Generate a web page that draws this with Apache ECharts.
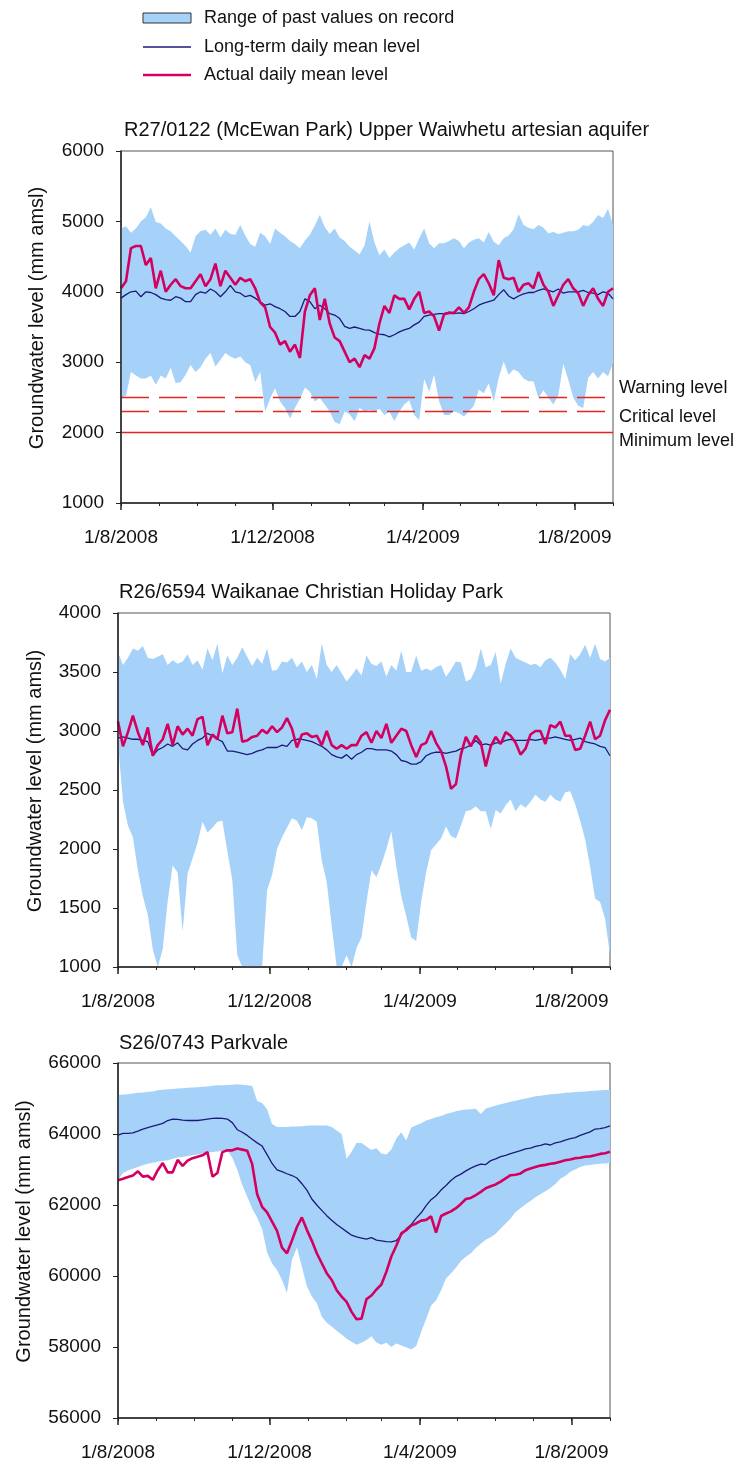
<!DOCTYPE html>
<html><head><meta charset="utf-8">
<script src="https://cdn.jsdelivr.net/npm/echarts/dist/echarts.min.js"></script>
<style>html,body{margin:0;padding:0;background:#fff}#c{width:753px;height:1465px}</style>
</head><body><div id="c"></div>
<script>
const FONT = "'Liberation Sans', Arial, Helvetica, sans-serif";
const BAND = '#a6d2f9', MEAN = '#1c1a78', ACT = '#d4005f', THR = '#e3261f', INK = '#111';

// sample days (offset from 1/8/2008)
const sampleDays = [0,4,8,12,16,20,24,28,32,36,40,44,48,52,56,60,64,68,72,76,80,84,88,92,96,100,104,108,112,116,120,124,128,132,136,140,144,148,152,156,160,164,168,172,176,180,184,188,192,196,200,204,208,212,216,220,224,228,232,236,240,244,248,252,256,260,264,268,272,276,280,284,288,292,296,300,304,308,312,316,320,324,328,332,336,340,344,348,352,356,360,364,368,372,376,380,384,388,392,396];

// Panel 1: R27/0122
const p1Upper = [4900,4930,4840,4900,5000,5060,5200,4990,4970,4900,
 4860,4790,4720,4650,4560,4790,4860,4880,4810,4900,
 4770,4880,4820,4810,4950,4800,4680,4640,4840,4790,
 4680,4900,4840,4790,4720,4680,4620,4730,4810,4940,
 5090,4920,4820,4900,4770,4720,4640,4590,4530,4660,
 5000,4700,4520,4600,4480,4560,4620,4660,4700,4600,
 4760,4900,4690,4620,4690,4690,4720,4760,4720,4620,
 4700,4740,4760,4700,4850,4710,4660,4760,4800,4890,
 5100,4950,4910,4890,4950,4910,4830,4850,4820,4840,
 4860,4860,4880,4950,4930,4990,5090,5050,5180,4950];
const p1Lower = [2500,2520,2860,2810,2770,2770,2810,2680,2810,2770,
 2920,2700,2720,2820,2960,2860,2930,3050,3130,2940,
 3030,3130,3080,3050,3080,3000,2960,2720,2860,2300,
 2480,2630,2440,2350,2200,2350,2480,2640,2580,2440,
 2490,2400,2300,2150,2120,2300,2260,2160,2350,2300,
 2320,2300,2340,2250,2300,2160,2300,2400,2460,2250,
 2180,2760,2580,2820,2450,2250,2250,2300,2280,2230,
 2300,2380,2610,2560,2700,2440,2780,3010,2820,2900,
 2860,2770,2730,2730,2490,2600,2500,2400,2530,2980,
 2750,2500,2380,2350,2780,2860,2770,2860,2800,2990];
const p1Mean = [3910,3960,4000,4010,3930,4000,3990,3960,3910,3890,
 3880,3930,3910,3860,3860,3960,4000,3980,4040,4000,
 3930,4000,4090,4000,3980,3930,3950,3910,3860,3810,
 3830,3790,3760,3720,3650,3650,3720,3900,3860,3760,
 3810,3760,3690,3670,3620,3510,3480,3500,3480,3460,
 3455,3420,3400,3390,3360,3390,3430,3460,3480,3530,
 3570,3650,3670,3680,3690,3690,3710,3690,3700,3690,
 3720,3760,3810,3840,3860,3880,3960,4030,3940,3900,
 3940,3970,3990,3990,4020,4040,4020,4000,4040,3980,
 4000,4000,4000,4020,3990,3980,3960,4000,3980,3900];
const p1Actual = [4050,4150,4620,4650,4650,4380,4480,4050,4300,4000,
 4100,4180,4080,4050,4050,4150,4250,4080,4180,4400,
 4080,4300,4200,4100,4200,4150,4180,4050,3850,3780,
 3500,3420,3250,3300,3150,3250,3060,3720,3950,4050,
 3600,3900,3550,3350,3300,3150,3000,3050,2930,3100,
 3050,3200,3550,3800,3700,3950,3900,3900,3750,3900,
 4000,3700,3720,3650,3450,3680,3700,3700,3780,3700,
 3780,4000,4180,4250,4120,3950,4450,4200,4180,4200,
 4000,4100,4120,4050,4280,4100,4000,3800,3950,4100,
 4180,4050,3980,3800,3950,4050,3900,3800,4000,4050];
const p1Thresholds = [2500, 2300, 2000];
const p1ThrLabels = ['Warning level', 'Critical level', 'Minimum level'];
const p1ThrDashed = [true, true, false];

// Panel 2: R26/6594
const p2Upper = [3670,3560,3620,3700,3680,3720,3620,3610,3630,3650,
 3560,3600,3570,3590,3650,3560,3600,3520,3700,3600,
 3740,3490,3640,3560,3620,3710,3630,3550,3620,3570,
 3700,3510,3520,3590,3580,3620,3540,3590,3500,3560,
 3440,3740,3560,3500,3560,3490,3420,3470,3530,3470,
 3640,3570,3550,3590,3460,3560,3510,3680,3500,3500,
 3640,3510,3530,3510,3540,3560,3460,3520,3590,3580,
 3420,3440,3530,3700,3540,3560,3670,3400,3570,3700,
 3620,3600,3580,3560,3570,3540,3600,3620,3580,3520,
 3440,3650,3600,3650,3730,3620,3740,3610,3590,3620];
const p2Lower = [2900,2400,2200,2100,1820,1600,1440,1150,1000,1150,
 1560,1860,1800,1300,1790,1920,2050,2230,2140,2180,
 2230,2240,1980,1740,1100,1000,1000,1000,1000,1000,
 1650,1780,2000,2100,2180,2260,2240,2160,2270,2260,
 2230,1900,1720,1350,1000,1000,1100,1000,1160,1250,
 1550,1820,1760,1870,2000,2150,1850,1600,1430,1250,
 1220,1550,1800,1990,2040,2090,2190,2110,2090,2200,
 2320,2330,2360,2320,2320,2170,2330,2300,2370,2420,
 2320,2380,2350,2400,2460,2420,2400,2460,2420,2400,
 2480,2490,2380,2240,2080,1850,1580,1550,1410,1100];
const p2Mean = [2940,2950,2940,2930,2930,2920,2910,2790,2840,2860,
 2890,2870,2900,2850,2840,2890,2920,2940,2980,2960,
 2930,2910,2830,2830,2820,2810,2800,2810,2830,2840,
 2860,2860,2860,2880,2870,2920,2930,2930,2920,2910,
 2890,2870,2840,2800,2780,2770,2800,2760,2800,2820,
 2850,2850,2840,2840,2840,2830,2800,2750,2740,2720,
 2720,2740,2790,2810,2820,2820,2810,2820,2830,2850,
 2860,2880,2920,2880,2890,2880,2900,2900,2920,2930,
 2920,2920,2920,2930,2920,2930,2940,2940,2950,2940,
 2930,2920,2930,2940,2910,2900,2890,2870,2860,2790];
const p2Actual = [3080,2870,2990,3130,2990,2880,3030,2790,2880,2930,
 3060,2880,3040,2970,3020,2960,3100,3120,2880,2970,
 2930,3130,2980,2990,3190,2910,2920,2950,2960,3010,
 2980,3040,2990,3030,3110,3020,2860,2970,2980,2950,
 2960,2880,3000,2880,2850,2880,2850,2880,2880,2960,
 2990,2900,3000,2940,3060,2900,2960,3020,3000,2880,
 2780,2880,2900,3000,2900,2830,2700,2510,2550,2800,
 2950,2870,2960,2900,2700,2870,2950,2890,2990,2960,
 2900,2800,2850,2970,3000,3000,2890,3050,3030,3080,
 2960,2960,2840,2850,2960,3080,2930,2960,3090,3180];

// Panel 3: S26/0743
const p3Upper = [65100,65110,65120,65140,65160,65170,65190,65200,65230,65250,
 65260,65270,65280,65290,65300,65310,65320,65330,65340,65360,
 65370,65370,65380,65390,65400,65390,65370,65350,64930,64870,
 64700,64280,64200,64200,64200,64210,64210,64220,64230,64240,
 64240,64240,64240,64200,64100,64000,63300,63500,63750,63750,
 63650,63550,63600,63450,63420,63560,63870,64050,63820,64180,
 64250,64300,64380,64420,64470,64510,64560,64600,64640,64670,
 64690,64700,64710,64560,64720,64760,64800,64840,64870,64910,
 64940,64970,65000,65030,65060,65080,65100,65120,65130,65140,
 65160,65170,65180,65190,65200,65210,65220,65230,65240,65250];
const p3Lower = [62700,62900,62970,63020,63070,63120,63160,63190,63220,63240,
 63260,63300,63340,63350,63380,63400,63420,63450,63470,63490,
 63510,63530,63540,63330,62990,62560,62230,61900,61650,61320,
 60670,60350,60170,59890,59520,60450,60800,60260,59720,59420,
 59240,58860,58680,58580,58460,58350,58230,58150,58060,58120,
 58200,58300,58130,58060,58120,58000,58100,58040,57990,57930,
 58030,58420,58790,59170,59320,59590,59930,60080,60230,60420,
 60540,60640,60790,60910,61020,61090,61190,61340,61480,61620,
 61800,61910,62020,62110,62220,62300,62390,62480,62590,62740,
 62820,62940,63000,63070,63110,63130,63150,63160,63170,63180];
const p3Mean = [63970,64020,64020,64030,64080,64140,64180,64220,64260,64300,
 64380,64420,64410,64390,64380,64380,64380,64400,64420,64440,
 64450,64440,64420,64320,64120,64050,63960,63850,63750,63660,
 63420,63170,62990,62940,62880,62830,62760,62600,62420,62170,
 62000,61850,61700,61570,61450,61350,61250,61150,61100,61070,
 61040,61080,61010,60990,60970,60960,61000,61150,61330,61450,
 61630,61780,61980,62150,62260,62420,62550,62690,62800,62870,
 62960,63040,63100,63150,63140,63250,63300,63360,63400,63450,
 63490,63530,63580,63600,63650,63680,63720,63690,63750,63780,
 63830,63870,63900,63960,64010,64060,64140,64150,64180,64230];
const p3Actual = [62700,62740,62790,62830,62950,62800,62820,62710,62980,63180,
 62920,62920,63270,63100,63250,63320,63360,63400,63490,62800,
 62900,63490,63540,63540,63590,63560,63530,63150,62300,61950,
 61790,61530,61270,60800,60640,61000,61380,61650,61300,60990,
 60640,60360,60080,59890,59600,59420,59270,58990,58780,58800,
 59350,59450,59620,59760,60120,60550,60850,61200,61290,61420,
 61480,61560,61580,61680,61220,61690,61760,61820,61910,62030,
 62170,62200,62280,62370,62470,62530,62580,62660,62750,62840,
 62850,62890,62980,63030,63070,63110,63130,63160,63180,63220,
 63260,63280,63320,63330,63360,63370,63400,63440,63460,63500];

// daily date categories for the time axis (1/8/2008 .. 1/9/2009)
const startUTC = Date.UTC(2008, 7, 1);
const dayLabels = [];
for (let i = 0; i <= 396; i++) {
  const dt = new Date(startUTC + i * 86400000);
  dayLabels.push(dt.getUTCDate() + '/' + (dt.getUTCMonth() + 1) + '/' + dt.getUTCFullYear());
}
const majorDates = ['1/8/2008', '1/12/2008', '1/4/2009', '1/8/2009'];
const yName = 'Groundwater level (mm amsl)';

const panels = [
  { title: 'R27/0122 (McEwan Park) Upper Waiwhetu artesian aquifer', tx: 124, ty: 130,
    grid: { left: 121, top: 151, width: 492, height: 352 }, yMin: 1000, yMax: 6000, yInt: 1000, nameGap: 74,
    lower: p1Lower, upper: p1Upper, mean: p1Mean, actual: p1Actual },
  { title: 'R26/6594 Waikanae Christian Holiday Park', tx: 119, ty: 592,
    grid: { left: 118, top: 613, width: 492, height: 354 }, yMin: 1000, yMax: 4000, yInt: 500, nameGap: 73,
    lower: p2Lower, upper: p2Upper, mean: p2Mean, actual: p2Actual },
  { title: 'S26/0743 Parkvale', tx: 119, ty: 1043,
    grid: { left: 118, top: 1063, width: 492, height: 355 }, yMin: 56000, yMax: 66000, yInt: 2000, nameGap: 84,
    lower: p3Lower, upper: p3Upper, mean: p3Mean, actual: p3Actual }
];

const grids = [], xAxes = [], yAxes = [], series = [];
panels.forEach((p, i) => {
  grids.push(Object.assign({ show: true, borderColor: '#555', borderWidth: 1, backgroundColor: 'transparent', containLabel: false, outerBoundsMode: 'none' }, p.grid));
  // axis 2i: data axis with monthly minor ticks; axis 2i+1: 4-monthly major ticks and labels
  xAxes.push({ type: 'category', gridIndex: i, data: dayLabels, boundaryGap: false, position: 'bottom', z: 5,
    axisLine: { show: true, onZero: false, lineStyle: { color: '#222', width: 1.5 } },
    axisTick: { show: true, interval: (idx, v) => v.indexOf('1/') === 0, length: 3, lineStyle: { color: '#222', width: 1 } },
    axisLabel: { show: false }, splitLine: { show: false } });
  xAxes.push({ type: 'category', gridIndex: i, data: dayLabels, boundaryGap: false, position: 'bottom', z: 5,
    axisLine: { show: false, onZero: false },
    axisTick: { show: true, interval: (idx, v) => majorDates.indexOf(v) >= 0, length: 7, lineStyle: { color: '#222', width: 1.5 } },
    axisLabel: { show: true, interval: (idx, v) => majorDates.indexOf(v) >= 0, margin: 25, fontSize: 19, fontFamily: FONT, color: INK, hideOverlap: false },
    splitLine: { show: false } });
  yAxes.push({ type: 'value', gridIndex: i, min: p.yMin, max: p.yMax, interval: p.yInt, z: 5,
    axisLine: { show: true, lineStyle: { color: '#222', width: 1.5 } },
    axisTick: { show: true, length: 5, lineStyle: { color: '#222', width: 1 } },
    axisLabel: { fontSize: 19, fontFamily: FONT, color: INK, margin: 17, formatter: v => String(v) },
    splitLine: { show: false },
    name: yName, nameLocation: 'middle', nameGap: p.nameGap,
    nameTextStyle: { fontSize: 20, fontFamily: FONT, color: INK, padding: [0, 0, 0, 18] } });
  const xi = i * 2;
  series.push({ type: 'line', xAxisIndex: xi, yAxisIndex: i, stack: 'band' + i, symbol: 'none', silent: true, z: 1,
    lineStyle: { width: 0, opacity: 0 }, data: sampleDays.map((d, k) => [d, p.lower[k]]) });
  series.push({ type: 'line', xAxisIndex: xi, yAxisIndex: i, stack: 'band' + i, symbol: 'none', silent: true, z: 1,
    lineStyle: { width: 0, opacity: 0 }, areaStyle: { color: BAND, opacity: 1 },
    data: sampleDays.map((d, k) => [d, p.upper[k] - p.lower[k]]) });
  const meanSeries = { type: 'line', xAxisIndex: xi, yAxisIndex: i, symbol: 'none', silent: true, z: 3,
    lineStyle: { color: MEAN, width: 1.3 }, data: sampleDays.map((d, k) => [d, p.mean[k]]) };
  if (i === 0) {
    meanSeries.markLine = { silent: true, symbol: ['none', 'none'], label: { show: false }, animation: false,
      data: p1Thresholds.map((v, k) => ({ yAxis: v, lineStyle: { color: THR, width: 1.4, type: p1ThrDashed[k] ? [28, 10] : 'solid' } })) };
  }
  series.push(meanSeries);
  series.push({ type: 'line', xAxisIndex: xi, yAxisIndex: i, symbol: 'none', silent: true, z: 4,
    lineStyle: { color: ACT, width: 2.6 }, data: sampleDays.map((d, k) => [d, p.actual[k]]) });
});

const chart = echarts.init(document.getElementById('c'), null, { renderer: 'canvas' });
chart.setOption({ animation: false, backgroundColor: '#fff', grid: grids, xAxis: xAxes, yAxis: yAxes, series: series });

const txt = (x, y, text, size) => ({ type: 'text', x: x, y: y, silent: true,
  style: { text: text, fill: INK, fontSize: size, fontFamily: FONT, textVerticalAlign: 'middle', verticalAlign: 'middle', textAlign: 'left', align: 'left' } });
const els = [];
panels.forEach(p => els.push(txt(p.tx, p.ty, p.title, 20)));
// legend
els.push({ type: 'rect', silent: true, shape: { x: 143, y: 13, width: 48, height: 10 }, style: { fill: BAND, stroke: '#333', lineWidth: 1 } });
els.push({ type: 'line', silent: true, shape: { x1: 143, y1: 47, x2: 191, y2: 47 }, style: { stroke: MEAN, lineWidth: 1.5 } });
els.push({ type: 'line', silent: true, shape: { x1: 143, y1: 75, x2: 191, y2: 75 }, style: { stroke: ACT, lineWidth: 2.5 } });
els.push(txt(204, 18, 'Range of past values on record', 18));
els.push(txt(204, 47, 'Long-term daily mean level', 18));
els.push(txt(204, 75, 'Actual daily mean level', 18));
// threshold labels
const thrOffsets = [-9, 6, 8];
p1Thresholds.forEach((v, k) => {
  const y = chart.convertToPixel({ yAxisIndex: 0 }, v);
  els.push(txt(619, y + thrOffsets[k], p1ThrLabels[k], 18));
});
chart.setOption({ graphic: { elements: els } });
</script></body></html>
